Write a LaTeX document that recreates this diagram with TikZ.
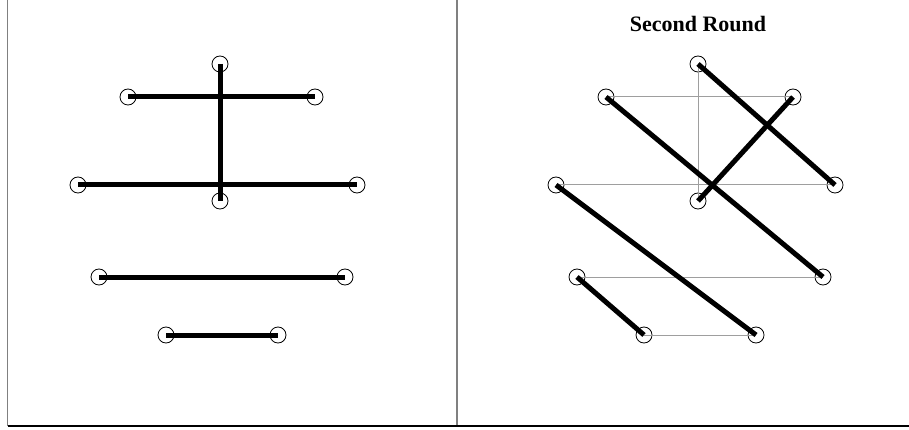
\documentclass[tikz,border=0pt]{standalone}
\usepackage{fontspec}
\setmainfont{Liberation Serif}
\begin{document}
\begin{tikzpicture}[x=1pt, y=-1pt,
	dot/.style = {draw, circle, line width=0.8pt, inner sep=0pt, minimum size=16pt},
	pair/.style = {line width=5pt},
	old/.style = {draw=black!38, line width=1pt},
	frame/.style = {draw=black!50, line width=1.5pt}]
	
	\useasboundingbox (0,0) rectangle (909,430);
	
	% frame
	\coordinate (fl) at (7.5,0);
	\coordinate (fm) at (457,0);
	\coordinate (bl) at (7.5,426);
	\coordinate (bm) at (457,426);
	\coordinate (br) at (909,426);
	\draw[frame] (fl) -- (bl);
	\draw[frame] (fm) -- (bm);
	\draw[line width=1.5pt] (bl) -- (br);
	
	% first round
	\node[dot] (t) at (220,64) {};
	\node[dot] (b) at (220,201) {};
	\node[dot] (p) at (128,97) {};
	\node[dot] (q) at (315,97) {};
	\node[dot] (r) at (78,185) {};
	\node[dot] (s) at (357,185) {};
	\node[dot] (u) at (99,277) {};
	\node[dot] (v) at (345,277) {};
	\node[dot] (w) at (166,335) {};
	\node[dot] (z) at (278,335) {};
	
	\draw[pair] (p.center) -- (q.center);
	\draw[pair] (r.center) -- (s.center);
	\draw[pair] (t.center) -- (b.center);
	\draw[pair] (u.center) -- (v.center);
	\draw[pair] (w.center) -- (z.center);
	
	% second round
	\node[font=\bfseries\fontsize{22}{24}\selectfont] (title) at (698,24) {Second Round};
	
	\node[dot] (t2) at (698,64) {};
	\node[dot] (b2) at (698,201) {};
	\node[dot] (p2) at (606,97) {};
	\node[dot] (q2) at (793,97) {};
	\node[dot] (r2) at (556,185) {};
	\node[dot] (s2) at (835,185) {};
	\node[dot] (u2) at (577,277) {};
	\node[dot] (v2) at (823,277) {};
	\node[dot] (w2) at (644,335) {};
	\node[dot] (z2) at (756,335) {};
	
	\draw[old] (p2.center) -- (q2.center);
	\draw[old] (r2.center) -- (s2.center);
	\draw[old] (t2.center) -- (b2.center);
	\draw[old] (u2.center) -- (v2.center);
	\draw[old] (w2.center) -- (z2.center);
	
	\draw[pair] (t2.center) -- (s2.center);
	\draw[pair] (p2.center) -- (v2.center);
	\draw[pair] (q2.center) -- (b2.center);
	\draw[pair] (r2.center) -- (z2.center);
	\draw[pair] (u2.center) -- (w2.center);
	
\end{tikzpicture}
\end{document}
